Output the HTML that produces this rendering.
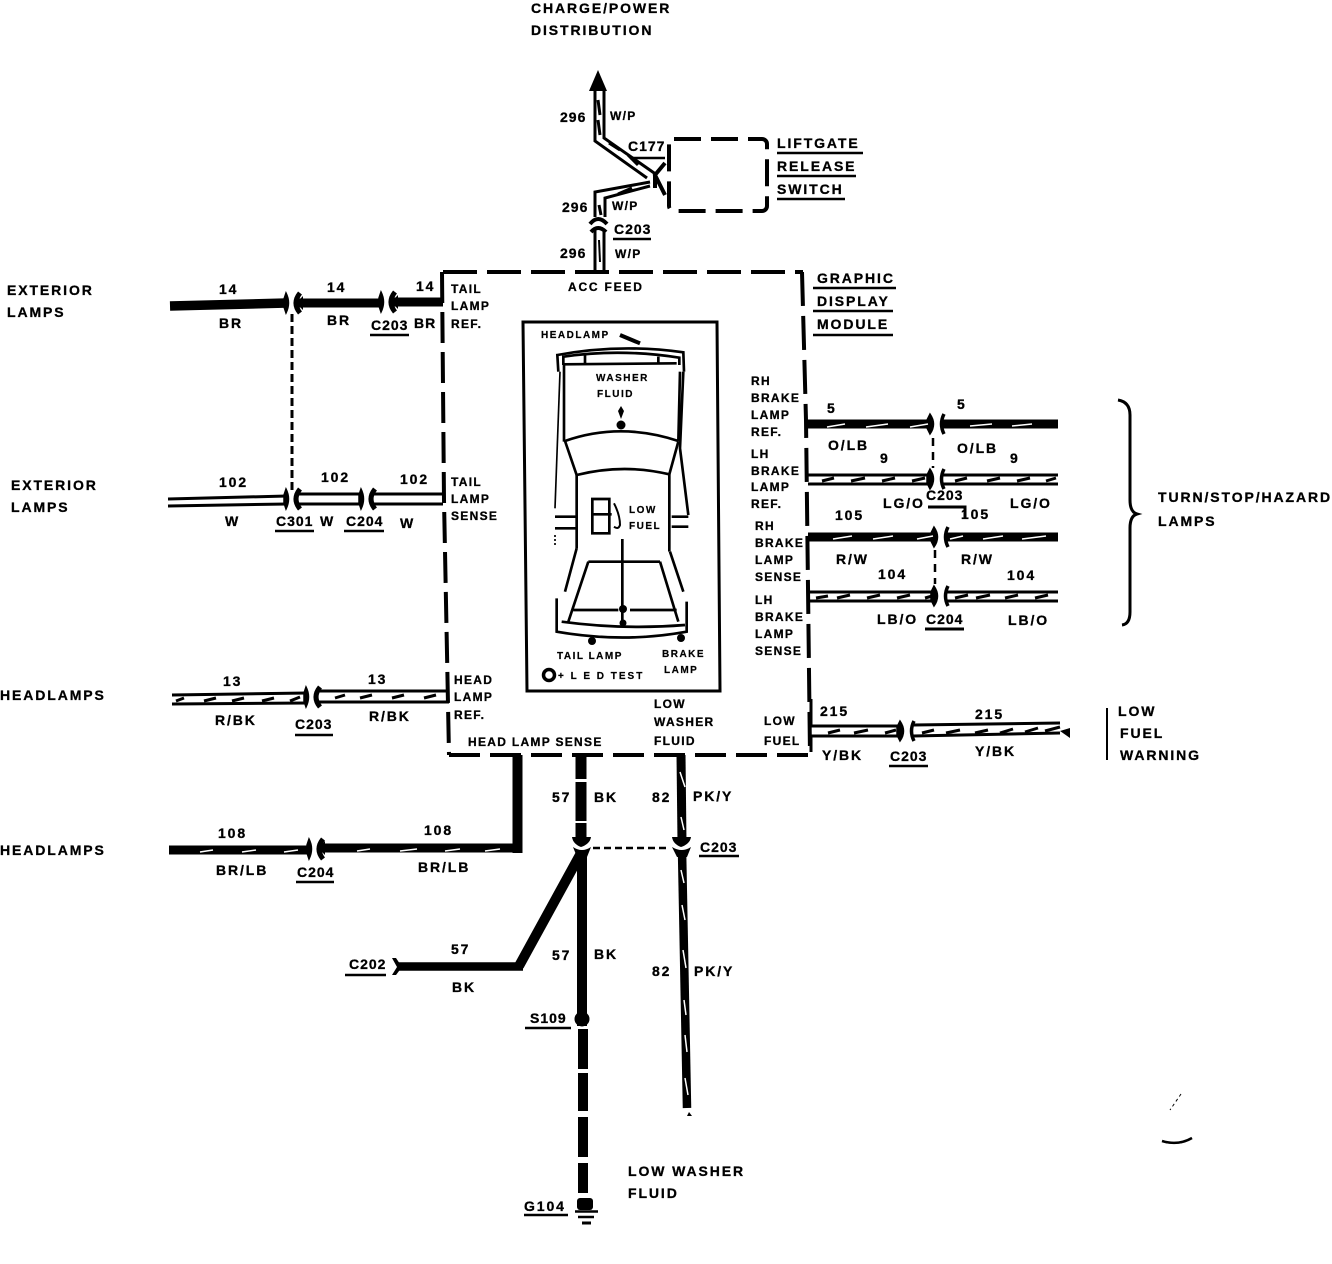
<!DOCTYPE html>
<html><head><meta charset="utf-8"><style>
html,body{margin:0;padding:0;background:#fff}
svg{display:block}
text{font-family:"Liberation Sans",sans-serif;font-weight:bold;font-size:14px;letter-spacing:1.9px;fill:#000;stroke:#000;stroke-width:.3}
text.c{letter-spacing:1px}
text.s{font-size:12px;letter-spacing:1.3px}
text.t{font-size:10px;letter-spacing:1.5px;stroke-width:.2}
.l{fill:none;stroke:#000;stroke-linecap:butt}
.w{fill:none;stroke:#fff;stroke-width:1.5}
.b{fill:none;stroke:#000;stroke-width:3}
.u{fill:none;stroke:#000;stroke-width:2.5}
.car *{fill:none;stroke:#000;stroke-width:8}
</style></head><body>
<svg width="1332" height="1264" viewBox="0 0 1332 1264" xmlns="http://www.w3.org/2000/svg">
<defs>
<g id="cl"><path d="M-6,-10 Q-1,0 -6,10 L-8,4 V-4Z" fill="#000" stroke="#000" stroke-width="1.5"/><path d="M8,-10 Q0,0 8,10" fill="none" stroke="#000" stroke-width="5"/></g>
<g id="cr"><path d="M6,-10 Q1,0 6,10" fill="none" stroke="#000" stroke-width="3.5"/><path d="M-8,-10 Q-1,0 -8,10 L-11,4 V-4Z" fill="#000" stroke="#000" stroke-width="1.5"/></g>
</defs>

<!-- Module outlines -->
<path class="l" stroke-width="4" stroke-dasharray="34,10" d="M443,272 H803"/>
<path class="l" stroke-width="4" stroke-dasharray="31,9" d="M442,272 L444,500 L449,755"/>
<path class="l" stroke-width="4" stroke-dasharray="34,10" d="M802,272 L806,420 L810,755"/>
<path class="l" stroke-width="4" stroke-dasharray="31,10" d="M449,755 H810"/>
<rect x="669" y="139" width="98" height="72" rx="5" class="l" stroke-width="4" stroke-dasharray="27,10"/>

<!-- Top wire 296 -->
<path d="M598,70 L607,91 H589 Z"/>
<path class="l" stroke-width="3" d="M595,90 V141 L647,178 M604,90 V138 L657,175"/>
<path class="b" d="M598,100 L600,115 M598,120 L600,135 M609,143 L620,150 M628,155 L638,165"/>
<path class="l" stroke-width="3" d="M650,182 L595,192 V217 M650,186 L605,198 V217"/>
<path class="b" d="M618,194 L632,188 M599,205 L601,215"/>
<path class="l" stroke-width="4" d="M665,163 L655,175 L665,195 M655,175 V188"/>
<path class="u" d="M630,158 H665"/>
<path class="l" stroke-width="4" d="M590,224 Q598,214 607,224 M591,232 Q598,224 606,232"/>
<path class="l" stroke-width="3" d="M595,230 V272 M604,230 V272"/>
<path class="l" stroke-width="2" d="M599,240 L600,262"/>

<text x="560" y="122" class="c">296</text><text x="610" y="120" class="s">W/P</text>
<text x="628" y="151" class="c">C177</text>
<text x="562" y="212" class="c">296</text><text x="612" y="210" class="s">W/P</text>
<text x="614" y="234" class="c">C203</text><path class="u" d="M613,239 H651"/>
<text x="560" y="258" class="c">296</text><text x="615" y="258" class="s">W/P</text>
<text x="531" y="13">CHARGE/POWER</text>
<text x="531" y="35">DISTRIBUTION</text>
<text x="777" y="148">LIFTGATE</text><path class="u" d="M777,153 H863"/>
<text x="777" y="171">RELEASE</text><path class="u" d="M777,176 H856"/>
<text x="777" y="194">SWITCH</text><path class="u" d="M777,199 H845"/>
<text x="817" y="283">GRAPHIC</text><path class="u" d="M813,288 H896"/>
<text x="817" y="306">DISPLAY</text><path class="u" d="M813,311 H893"/>
<text x="817" y="329">MODULE</text><path class="u" d="M813,335 H893"/>

<!-- Left wires -->
<path class="l" stroke-width="9.5" d="M170,306 L287,303"/>
<path class="l" stroke-width="9" d="M297,303 H380 M392,302 H443"/>
<path d="M296,303 l7,-7 v14z M391,302 l7,-7 v14z"/>
<use href="#cl" x="292" y="303"/><use href="#cl" x="387" y="302"/>
<path class="l" stroke-width="3" stroke-dasharray="8,4" d="M292,314 V490"/>
<text x="7" y="295">EXTERIOR</text><text x="7" y="317">LAMPS</text>
<text x="219" y="294">14</text><text x="327" y="292">14</text><text x="416" y="291">14</text>
<text x="219" y="328">BR</text><text x="327" y="325">BR</text><text x="414" y="328" class="c">BR</text>
<text x="371" y="330" class="c">C203</text><path class="u" d="M370,335 H409"/>

<path class="l" stroke-width="3" d="M168,499 L287,496 M168,506 L287,504 M297,494 H362 M297,504 H362 M372,494 H443 M372,504 H443"/>
<use href="#cl" x="292" y="499"/><use href="#cl" x="367" y="499"/>
<text x="11" y="490">EXTERIOR</text><text x="11" y="512">LAMPS</text>
<text x="219" y="487">102</text><text x="321" y="482">102</text><text x="400" y="484">102</text>
<text x="225" y="526" class="c">W</text><text x="320" y="526" class="c">W</text><text x="400" y="528" class="c">W</text>
<text x="276" y="526" class="c">C301</text><path class="u" d="M275,531 H314"/>
<text x="346" y="526" class="c">C204</text><path class="u" d="M344,531 H384"/>

<path class="l" stroke-width="3" d="M172,695 L307,693 M172,704 L307,703 M316,691 H449 M316,702 H449"/>
<path class="b" d="M176,701 L184,698 M204,701 L216,698 M232,701 L244,698 M262,701 L274,698 M290,701 L300,697 M335,698 L345,695 M360,698 L372,695 M392,698 L404,695 M424,698 L436,695"/>
<use href="#cl" x="312" y="697"/>
<text x="0" y="700">HEADLAMPS</text>
<text x="223" y="686">13</text><text x="368" y="684">13</text>
<text x="215" y="725">R/BK</text><text x="369" y="721">R/BK</text>
<text x="295" y="729" class="c">C203</text><path class="u" d="M295,735 H333"/>

<path class="l" stroke-width="9" d="M169,850 H309 M319,848 H522"/>
<path class="l" stroke-width="10" d="M517.5,755 V853"/>
<path d="M318,848 l7,-7 v14z"/>
<use href="#cl" x="315" y="849"/>
<path class="w" d="M200,852 L213,850 M242,852 L256,850 M284,852 L298,850 M357,851 L370,849 M400,851 L417,849 M445,851 L460,849 M485,851 L500,849"/>
<text x="0" y="855">HEADLAMPS</text>
<text x="218" y="838">108</text><text x="424" y="835">108</text>
<text x="216" y="875">BR/LB</text><text x="418" y="872">BR/LB</text>
<text x="297" y="877" class="c">C204</text><path class="u" d="M296,882 H334"/>

<!-- Bottom wires -->
<path class="l" stroke-width="11" d="M581,755 V779 M581,782 V821 M581,823 V840"/>
<path class="l" stroke-width="10" d="M582,850 V1026 M583,1029 V1069 M583,1073 V1111 M583,1117 V1157 M583,1163 V1193"/>
<path d="M572,837 H591 Q590,844 581,847 Q573,844 572,837Z M573,847 Q582,853 591,847 L587,857 H577Z"/>
<path class="l" stroke-width="10" d="M581,853 L519,966"/>
<path class="l" stroke-width="8.5" d="M523,966.5 H398"/>
<path d="M396,958 L402,967 L396,975 L392,975 L397,967 L392,958Z"/>
<circle cx="582" cy="1019" r="7.5" fill="#000"/>
<path class="l" stroke-width="2.5" stroke-dasharray="7,4" d="M593,848 H669"/>
<path class="l" stroke-width="9" d="M681,755 L682,842"/>
<path class="l" stroke-width="8.5" d="M682,850 L687,1108"/>
<path d="M672,837 H691 Q690,844 681,847 Q673,844 672,837Z M672,847 Q682,853 691,847 L687,857 H677Z"/>
<path d="M689,1112 l3,4 h-5z"/>
<path class="w" d="M680,772 L685,787 M681,817 L684,830 M681,870 L684,883 M682,905 L685,920 M683,950 L686,968 M684,1000 L686,1015 M685,1035 L687,1052 M685,1078 L688,1095"/>
<rect x="577" y="1198" width="16" height="12" rx="3"/>
<path class="l" stroke-width="2.5" d="M575,1211.5 H598"/>
<path class="l" stroke-width="2.5" d="M578,1217 H594"/>
<path class="l" stroke-width="3" d="M582,1223 H591"/>
<text x="552" y="802">57</text><text x="594" y="802">BK</text>
<text x="652" y="802">82</text><text x="693" y="801">PK/Y</text>
<text x="700" y="852" class="c">C203</text><path class="u" d="M699,856 H739"/>
<text x="451" y="954">57</text><text x="452" y="992">BK</text>
<text x="552" y="960">57</text><text x="594" y="959">BK</text>
<text x="652" y="976">82</text><text x="694" y="976">PK/Y</text>
<text x="349" y="969" class="c">C202</text><path class="u" d="M345,975 H386"/>
<text x="530" y="1023" class="c">S109</text><path class="u" d="M525,1028 H571"/>
<text x="524" y="1211">G104</text><path class="u" d="M524,1215 H568"/>
<text x="628" y="1176">LOW WASHER</text><text x="628" y="1198">FLUID</text>

<!-- Right wires -->
<path class="l" stroke-width="9" d="M806,424 H932 M942,424 H1058"/>
<use href="#cr" x="938" y="424"/>
<path class="w" d="M827,427 L845,424 M866,427 L888,424 M910,427 L928,424 M970,426 L992,424 M1012,426 L1032,424"/>
<path class="l" stroke-width="3" d="M808,475 H932 M808,484 H932 M942,475 H1058 M942,484 H1058"/>
<path class="b" d="M822,481 L834,478 M851,481 L865,478 M882,481 L895,478 M912,481 L925,478 M955,481 L967,478 M987,481 L1000,478 M1017,481 L1030,478 M1046,481 L1056,478"/>
<use href="#cr" x="938" y="479"/>
<path class="l" stroke-width="9" d="M808,537 H936 M946,537 H1058"/>
<use href="#cr" x="942" y="537"/>
<path class="w" d="M833,539 L852,536 M873,539 L893,536 M917,539 L933,536 M950,539 L963,536 M983,539 L1003,536 M1022,539 L1046,536"/>
<path class="l" stroke-width="3" d="M810,592 H936 M810,601 H936 M946,592 H1058 M946,601 H1058"/>
<path class="b" d="M816,598 L828,596 M837,598 L850,595 M867,598 L880,595 M897,598 L910,595 M925,598 L936,595 M955,598 L968,595 M976,598 L990,595 M1005,598 L1018,595 M1035,598 L1048,595"/>
<use href="#cr" x="942" y="596"/>
<path class="l" stroke-width="2.5" stroke-dasharray="8,6" d="M933,438 V468 M935,550 V584"/>
<path class="l" stroke-width="3" d="M928,507 H965 V518"/>
<text x="827" y="413">5</text><text x="957" y="409">5</text>
<text x="828" y="450">O/LB</text><text x="957" y="453">O/LB</text>
<text x="880" y="463">9</text><text x="1010" y="463">9</text>
<text x="883" y="508">LG/O</text><text x="1010" y="508">LG/O</text>
<text x="926" y="500" class="c">C203</text>
<text x="835" y="520">105</text><text x="961" y="519">105</text>
<text x="836" y="564">R/W</text><text x="961" y="564">R/W</text>
<text x="878" y="579">104</text><text x="1007" y="580">104</text>
<text x="877" y="624">LB/O</text><text x="1008" y="625">LB/O</text>
<text x="926" y="624" class="c">C204</text><path class="l" stroke-width="3" d="M925,629 H964"/>
<path class="l" stroke-width="3" d="M1118,400 Q1130,402 1130,415 V500 Q1130,512 1137,514 Q1130,516 1130,528 V612 Q1130,624 1122,625"/>
<text x="1158" y="502">TURN/STOP/HAZARD</text><text x="1158" y="526">LAMPS</text>

<path class="l" stroke-width="3" d="M811,699 V726 H902 M811,752 V736 H902 M913,725 L1060,723 M913,736 L1060,733"/>
<path class="b" d="M828,733 L840,730 M854,733 L868,730 M885,733 L896,730 M922,733 L934,730 M946,733 L960,730 M975,733 L988,730 M1000,733 L1013,729 M1025,732 L1038,728 M1045,731 L1060,727"/>
<use href="#cr" x="908" y="731"/>
<path d="M1060,731 L1070,728 V738 Z"/>
<path class="l" stroke-width="2" d="M1107,708 V760"/>
<text x="820" y="716">215</text><text x="975" y="719">215</text>
<text x="822" y="760">Y/BK</text><text x="975" y="756">Y/BK</text>
<text x="890" y="761" class="c">C203</text><path class="u" d="M889,766 H928"/>
<text x="1118" y="716">LOW</text><text x="1120" y="738">FUEL</text><text x="1120" y="760">WARNING</text>

<!-- Module labels -->
<text class="s" x="451" y="293">TAIL</text><text class="s" x="451" y="310">LAMP</text><text class="s" x="451" y="328">REF.</text>
<text class="s" x="451" y="486">TAIL</text><text class="s" x="451" y="503">LAMP</text><text class="s" x="451" y="520">SENSE</text>
<text class="s" x="454" y="684">HEAD</text><text class="s" x="454" y="701">LAMP</text><text class="s" x="454" y="719">REF.</text>
<text class="s" x="568" y="291" style="letter-spacing:1.8px">ACC FEED</text>
<text class="s" x="468" y="746">HEAD LAMP SENSE</text>
<text class="s" x="654" y="708">LOW</text><text class="s" x="654" y="726">WASHER</text><text class="s" x="654" y="745">FLUID</text>
<text class="s" x="764" y="725">LOW</text><text class="s" x="764" y="745">FUEL</text>
<text class="s" x="751" y="385">RH</text><text class="s" x="751" y="402">BRAKE</text><text class="s" x="751" y="419">LAMP</text><text class="s" x="751" y="436">REF.</text>
<text class="s" x="751" y="458">LH</text><text class="s" x="751" y="475">BRAKE</text><text class="s" x="751" y="491">LAMP</text><text class="s" x="751" y="508">REF.</text>
<text class="s" x="755" y="530">RH</text><text class="s" x="755" y="547">BRAKE</text><text class="s" x="755" y="564">LAMP</text><text class="s" x="755" y="581">SENSE</text>
<text class="s" x="755" y="604">LH</text><text class="s" x="755" y="621">BRAKE</text><text class="s" x="755" y="638">LAMP</text><text class="s" x="755" y="655">SENSE</text>

<!-- Panel with car -->
<path class="l" stroke-width="3" d="M523,322 H717 L720,691 H527 Z"/>
<g class="car" transform="translate(520,315) scale(.33333)">
<path d="M115,170 L112,120 Q300,85 490,112 L492,170"/>
<path d="M130,150 V125 Q300,100 478,128 V150 M130,148 L470,145 M195,120 V145 M415,125 V145"/>
<path d="M120,170 L105,580" style="stroke-width:5"/>
<path d="M132,150 V380 M480,170 L475,380 M490,170 L480,400 L505,600"/>
<path d="M105,660 V690" style="stroke-width:5;stroke-dasharray:6,6"/>
<path d="M135,378 Q300,320 475,378 M135,378 L170,480 Q310,445 448,478 L475,380"/>
<path d="M170,480 V700 M448,478 V710"/>
<path d="M105,605 H170 M105,640 H170 M455,605 H505 M455,635 H505"/>
<path d="M170,700 L135,830 M450,710 L490,830"/>
<path d="M205,740 H420 M205,740 L145,920 M420,740 L475,920"/>
<path d="M160,885 H295 M330,885 H470"/>
<path d="M307,672 V920"/>
<path d="M110,850 V950 Q310,985 500,950 V860 M125,920 Q310,945 495,930"/>
<path d="M217,552 H268 V655 H217 Z M217,598 H275"/>
<path d="M282,565 Q300,600 300,630 Q295,645 282,635" style="stroke-width:6"/>
<path d="M300,60 L360,85" style="stroke-width:12"/>
</g>
<circle cx="621" cy="425" r="4.5"/><path d="M621,406 l3,5 -3,8 -3,-8z"/>
<circle cx="623" cy="609" r="4"/><circle cx="623" cy="623" r="3.5"/>
<circle cx="592" cy="641" r="4"/><circle cx="681" cy="638" r="4"/>
<circle cx="549" cy="675" r="5.5" fill="#fff" stroke="#000" stroke-width="3.5"/>
<text class="t" x="541" y="338">HEADLAMP</text>
<text class="t" x="596" y="381">WASHER</text><text class="t" x="597" y="397">FLUID</text>
<text class="t" x="629" y="513">LOW</text><text class="t" x="629" y="529">FUEL</text>
<text class="t" x="557" y="659">TAIL LAMP</text>
<text class="t" x="662" y="657">BRAKE</text><text class="t" x="664" y="673">LAMP</text>
<text class="t" x="558" y="679" style="letter-spacing:2px">+ L E D TEST</text>

<!-- Stray mark -->
<path class="l" stroke-width="1" stroke-dasharray="3,3" d="M1181,1094 L1170,1110"/>
<path class="l" stroke-width="2.5" d="M1162,1141 Q1178,1146 1192,1138"/>
</svg>
</body></html>
